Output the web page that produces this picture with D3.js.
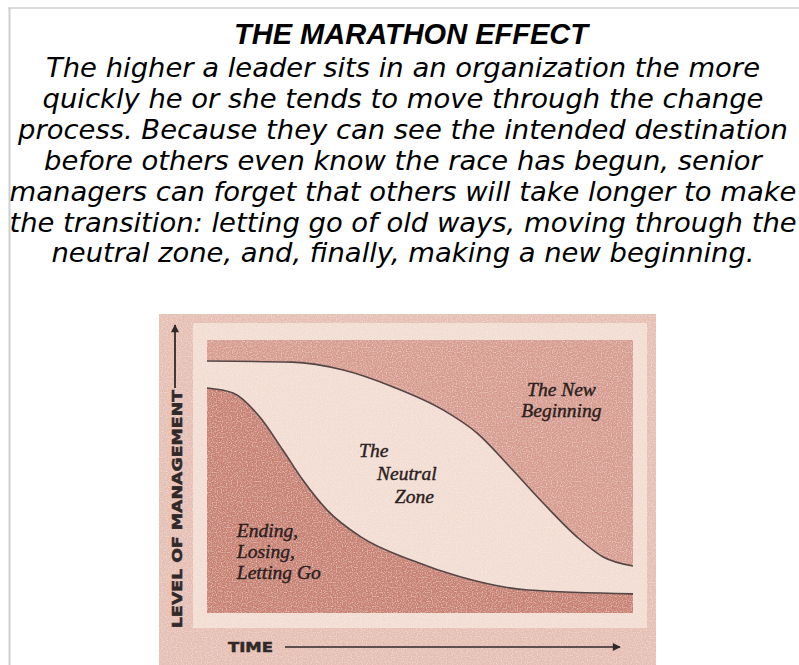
<!DOCTYPE html>
<html>
<head>
<meta charset="utf-8">
<script src="https://cdn.jsdelivr.net/npm/d3@7"></script>
<style>
  body { margin: 0; background: #fff; }
  svg { display: block; }
</style>
</head>
<body>
<script>
// the marathon effect - two s-curves over time

const title = "THE MARATHON EFFECT";
const paragraph = [
  "The higher a leader sits in an organization the more",
  "quickly he or she tends to move through the change",
  "process. Because they can see the intended destination",
  "before others even know the race has begun, senior",
  "managers can forget that others will take longer to make",
  "the transition: letting go of old ways, moving through the",
  "neutral zone, and, finally, making a new beginning."
];

// time (0-100) vs level of management (0-100)
const newBeginningEdge = [
  [0, 92.3], [20, 91.9], [32, 89.0], [43.7, 82.8], [55.4, 74.4], [63.4, 65.9],
  [71.1, 53.5], [78.9, 40.3], [86.9, 27.8], [93, 20.5], [100, 17.2]
];
const endingEdge = [
  [0, 82.4], [6.1, 80.6], [12.4, 71.8], [17.8, 59.7], [22.5, 48.7], [28.2, 37.7],
  [36.2, 27.8], [47.9, 19.4], [59.6, 13.2], [75.4, 8.4], [100, 7.0]
];

const zoneLabels = [
  { lines: ["The New", "Beginning"], t: 83.2, lvl: 79.6, anchor: "middle", step: 0, gap: 21 },
  { lines: ["The", "Neutral", "Zone"], t: 35.7, lvl: 57.1, anchor: "start", step: 4.2, gap: 23 },
  { lines: ["Ending,", "Losing,", "Letting Go"], t: 7, lvl: 27.8, anchor: "start", step: 0, gap: 20.8 }
];

const W = 799, H = 665;
const svg = d3.select("body").append("svg").attr("width", W).attr("height", H);

// page frame
svg.append("line").attr("x1", 8).attr("x2", W).attr("y1", 8).attr("y2", 8)
  .attr("stroke", "#cfcfcf").attr("stroke-width", 1.5);
svg.append("line").attr("x1", 9.5).attr("x2", 9.5).attr("y1", 8).attr("y2", H)
  .attr("stroke", "#cfcfcf").attr("stroke-width", 2);

// heading text
svg.append("text")
  .attr("x", 411).attr("y", 44)
  .attr("text-anchor", "middle")
  .style("font-family", "Liberation Sans, Arial, sans-serif")
  .style("font-weight", "bold").style("font-style", "italic")
  .style("font-size", "29px")
  .text(title);

svg.append("g").selectAll("text").data(paragraph).join("text")
  .attr("x", 403).attr("y", (d, i) => 77 + i * 30.9)
  .attr("text-anchor", "middle")
  .style("font-family", "DejaVu Sans, Verdana, sans-serif")
  .style("font-style", "italic")
  .style("font-size", "27.4px")
  .text(d => d);

// speckle texture like the scanned picture
const defs = svg.append("defs");
const f = defs.append("filter").attr("id", "grain").attr("x", 0).attr("y", 0).attr("width", 1).attr("height", 1);
f.append("feTurbulence").attr("type", "fractalNoise").attr("baseFrequency", 0.8).attr("numOctaves", 1).attr("seed", 7).attr("result", "n");
f.append("feColorMatrix").attr("in", "n").attr("type", "matrix")
  .attr("values", "0 0 0 0 1  0 0 0 0 0.93  0 0 0 0 0.9  0 0 0 1.3 -0.6").attr("result", "dots");
f.append("feComposite").attr("in", "dots").attr("in2", "SourceGraphic").attr("operator", "in").attr("result", "d2");
f.append("feMerge").selectAll("feMergeNode").data(["SourceGraphic", "d2"]).join("feMergeNode").attr("in", d => d);

const pic = svg.append("g").attr("filter", "url(#grain)");

// picture layers
pic.append("rect").attr("x", 159).attr("y", 314).attr("width", 497).attr("height", H - 314).attr("fill", "#e6bfb4");
pic.append("rect").attr("x", 193).attr("y", 323).attr("width", 454).attr("height", 305).attr("fill", "#f2ddd3");

const x = d3.scaleLinear().domain([0, 100]).range([207, 633]);
const y = d3.scaleLinear().domain([0, 100]).range([613, 340]);

pic.append("rect")
  .attr("x", x(0)).attr("y", y(100))
  .attr("width", x(100) - x(0)).attr("height", y(0) - y(100))
  .attr("fill", "#d79c8f");

const area = d3.area().x(d => x(d[0])).y0(y(0)).y1(d => y(d[1])).curve(d3.curveMonotoneX);
const line = d3.line().x(d => x(d[0])).y(d => y(d[1])).curve(d3.curveMonotoneX);

pic.append("path").attr("d", area(newBeginningEdge)).attr("fill", "#f2ddd3");
pic.append("path").attr("d", area(endingEdge)).attr("fill", "#c88172");

const ink = svg.append("g");

[newBeginningEdge, endingEdge].forEach(s => {
  ink.append("path").attr("d", line(s))
    .attr("fill", "none").attr("stroke", "#544646").attr("stroke-width", 1.6);
});

// zone labels
zoneLabels.forEach(z => {
  const t = ink.append("text")
    .attr("text-anchor", z.anchor)
    .style("font-family", "Liberation Serif, Times New Roman, serif")
    .style("font-style", "italic")
    .style("font-size", "19.5px")
    .attr("fill", "#2b2020")
    .attr("stroke", "#2b2020").attr("stroke-width", 0.4);
  z.lines.forEach((l, i) => {
    t.append("tspan").attr("x", x(z.t + i * z.step)).attr("y", y(z.lvl) + i * z.gap).text(l);
  });
});

// axis labels with arrows
const axisInk = "#2f2929";
defs.append("marker").attr("id", "head").attr("viewBox", "0 0 10 10")
  .attr("refX", 9).attr("refY", 5).attr("markerWidth", 9).attr("markerHeight", 8)
  .attr("markerUnits", "userSpaceOnUse").attr("orient", "auto")
  .append("path").attr("d", "M0,0L10,5L0,10Z").attr("fill", axisInk);

ink.append("text")
  .attr("transform", "translate(182,509) rotate(-90)")
  .attr("text-anchor", "middle")
  .attr("textLength", 238).attr("lengthAdjust", "spacingAndGlyphs")
  .style("font-family", "DejaVu Sans, Verdana, sans-serif")
  .style("font-weight", "bold").style("font-size", "14px")
  .attr("fill", axisInk).attr("stroke", axisInk).attr("stroke-width", 0.5)
  .text("LEVEL OF MANAGEMENT");
ink.append("line").attr("x1", 175).attr("x2", 175).attr("y1", 388).attr("y2", 325)
  .attr("stroke", axisInk).attr("stroke-width", 1.8).attr("marker-end", "url(#head)");

ink.append("text")
  .attr("x", 228).attr("y", 652)
  .attr("textLength", 45).attr("lengthAdjust", "spacingAndGlyphs")
  .style("font-family", "DejaVu Sans, Verdana, sans-serif")
  .style("font-weight", "bold").style("font-size", "14px")
  .attr("fill", axisInk).attr("stroke", axisInk).attr("stroke-width", 0.5)
  .text("TIME");
ink.append("line").attr("x1", 285).attr("x2", 620).attr("y1", 647).attr("y2", 647)
  .attr("stroke", axisInk).attr("stroke-width", 1.6).attr("marker-end", "url(#head)");
</script>
</body>
</html>
